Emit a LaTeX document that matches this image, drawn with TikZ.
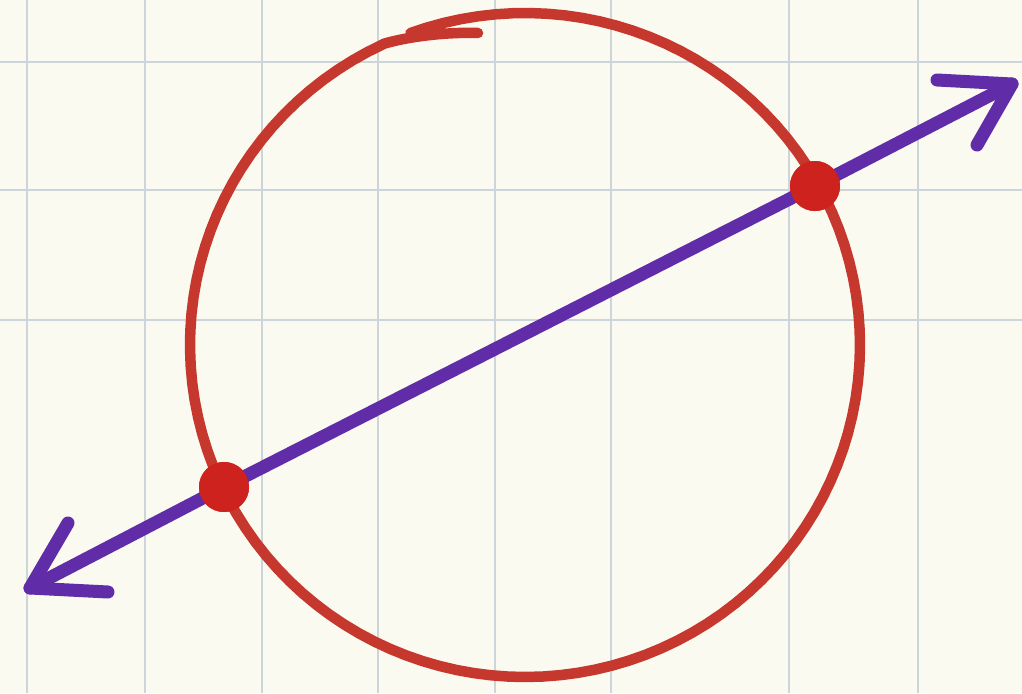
\documentclass[tikz,border=0pt]{standalone}
\usetikzlibrary{calc}
\definecolor{paper}{RGB}{250,250,241}
\definecolor{gridc}{RGB}{203,213,218}
\definecolor{ringred}{RGB}{198,55,45}
\definecolor{dotred}{RGB}{206,34,30}
\definecolor{secant}{RGB}{96,44,168}
\tikzset{
  gridline/.style={gridc, line width=2.8pt},
  ring/.style={ringred, line width=10.5pt, line cap=round, line join=round},
  secantline/.style={secant, line width=13pt, line cap=round, line join=round},
  hit/.style={circle, fill=dotred, inner sep=0pt, minimum size=50pt},
}
\begin{document}
\begin{tikzpicture}[x=1pt,y=-1pt]
\fill[paper] (0,0) rectangle (1022,693);
\useasboundingbox (0,0) rectangle (1022,693);
% grid
\foreach \gx in {27,145,262,378,495,611,789,918}{
  \draw[gridline] (\gx,0) -- (\gx,693);
}
\foreach \gy in {62,190,320}{
  \draw[gridline] (0,\gy) -- (1022,\gy);
}
% circle (hand drawn)
\draw[ring] (478,33) .. controls (448,32) and (410,36) .. (383,44)
  -- plot[domain=115:470, samples=120, variable=\t] ({525+335*cos(\t)}, {345-332*sin(\t)});
% secant line
\coordinate (lt) at (30,588);
\coordinate (rt) at (1012,84);
\node[hit] (p) at (224,487) {};
\node[hit] (q) at (815,186) {};
\draw[secantline] (lt) -- (p.center) -- (q.center) -- (rt);
\draw[secantline] (937,80) -- (rt) -- (977,145);
\draw[secantline] (68,523) -- (lt) -- (108,592);
\node[hit] at (p) {};
\node[hit] at (q) {};
\end{tikzpicture}
\end{document}
